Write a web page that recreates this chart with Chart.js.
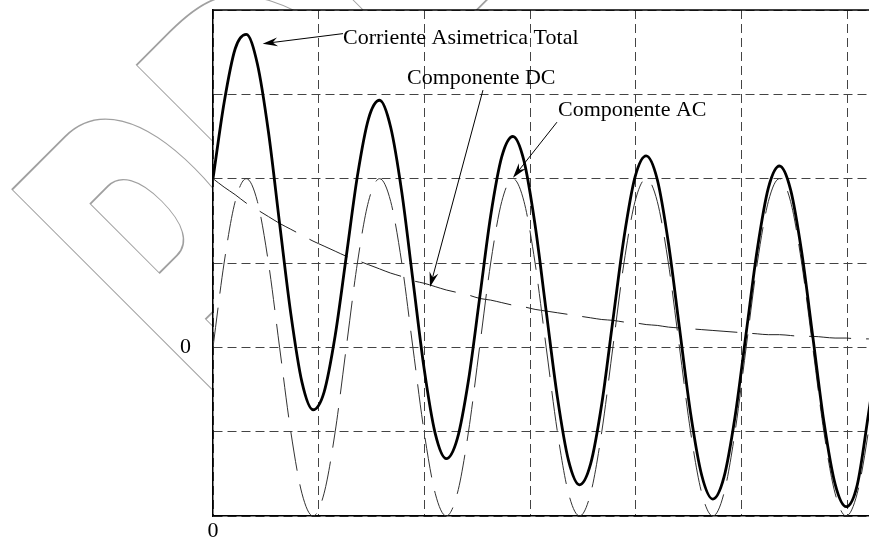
<!DOCTYPE html>
<html>
<head>
<meta charset="utf-8">
<script src="https://cdn.jsdelivr.net/npm/chart.js@4.4.1/dist/chart.umd.min.js"></script>
<style>
  html, body { margin: 0; padding: 0; background: #fff; }
  #wrap { width: 869px; height: 540px; }
</style>
</head>
<body>
<div id="wrap"><canvas id="chart"></canvas></div>
<script>
// Time axis in grid divisions (about 12 samples per cycle)
const tValues = [0, 0.105, 0.210, 0.315, 0.420, 0.525, 0.630, 0.736, 0.841, 0.946,
  1.051, 1.156, 1.261, 1.366, 1.471, 1.576, 1.681, 1.786, 1.891, 1.997,
  2.102, 2.207, 2.312, 2.417, 2.522, 2.627, 2.732, 2.837, 2.942, 3.047,
  3.152, 3.258, 3.363, 3.468, 3.573, 3.678, 3.783, 3.888, 3.993, 4.098,
  4.203, 4.308, 4.413, 4.518, 4.624, 4.729, 4.834, 4.939, 5.044, 5.149,
  5.254, 5.359, 5.464, 5.569, 5.674, 5.779, 5.885, 5.990, 6.095, 6.200, 6.305];

// Corriente asimetrica total (thick line)
const totalCurrent = [2.00, 2.90, 3.54, 3.71, 3.36, 2.55, 1.47, 0.40, -0.41, -0.74,
  -0.53, 0.14, 1.08, 2.03, 2.71, 2.93, 2.61, 1.84, 0.80, -0.25,
  -1.02, -1.32, -1.08, -0.39, 0.58, 1.56, 2.26, 2.50, 2.21, 1.45,
  0.43, -0.59, -1.34, -1.63, -1.38, -0.67, 0.32, 1.30, 2.02, 2.27,
  1.99, 1.24, 0.23, -0.78, -1.52, -1.80, -1.54, -0.82, 0.17, 1.16,
  1.89, 2.15, 1.87, 1.13, 0.13, -0.88, -1.62, -1.89, -1.63, -0.80, 0.09];

// Componente AC (thin dashed)
const acComponent = [0, 1.00, 1.73, 2.00, 1.73, 1.00, 0, -1.00, -1.73, -2.00,
  -1.73, -1.00, 0, 1.00, 1.73, 2.00, 1.73, 1.00, 0, -1.00,
  -1.73, -2.00, -1.73, -1.00, 0, 1.00, 1.73, 2.00, 1.73, 1.00,
  0, -1.00, -1.73, -2.00, -1.73, -1.00, 0, 1.00, 1.73, 2.00,
  1.73, 1.00, 0, -1.00, -1.73, -2.00, -1.73, -1.00, 0, 1.00,
  1.73, 2.00, 1.73, 1.00, 0, -1.00, -1.73, -2.00, -1.73, -1.00, 0];

// Componente DC (thin long dashes, decaying)
const dcComponent = [2.00, 1.90, 1.81, 1.71, 1.63, 1.55, 1.47, 1.40, 1.33, 1.26,
  1.20, 1.14, 1.08, 1.03, 0.98, 0.93, 0.88, 0.84, 0.79, 0.76,
  0.72, 0.68, 0.65, 0.62, 0.58, 0.56, 0.53, 0.50, 0.48, 0.45,
  0.43, 0.41, 0.39, 0.37, 0.35, 0.33, 0.32, 0.30, 0.29, 0.27,
  0.26, 0.24, 0.23, 0.22, 0.21, 0.20, 0.19, 0.18, 0.17, 0.16,
  0.15, 0.15, 0.14, 0.13, 0.13, 0.12, 0.11, 0.11, 0.10, 0.10, 0.09];

// Axis ranges (only the zero ticks carry a label)
const xRange = [0, 6.206];
const yRange = [-2, 4];

// Callouts, placed in data units
const callouts = [
  { text: 'Corriente Asimetrica Total', at: [1.23, 3.60], from: [1.23, 3.72], to: [0.47, 3.60] },
  { text: 'Componente DC', at: [1.835, 3.12], from: [2.554, 3.05], to: [2.053, 0.715] },
  { text: 'Componente AC', at: [3.264, 2.74], from: [3.254, 2.67], to: [2.838, 2.01] }
];

const SERIF = '"Liberation Serif", "Times New Roman", serif';

function toPoints(ys) {
  return tValues.map((t, i) => ({ x: t, y: ys[i] }));
}

function drawArrow(ctx, x1, y1, x2, y2) {
  const ang = Math.atan2(y2 - y1, x2 - x1);
  const len = 15, half = 4.5;
  ctx.beginPath();
  ctx.moveTo(x1, y1);
  ctx.lineTo(x2 - Math.cos(ang) * 8, y2 - Math.sin(ang) * 8);
  ctx.stroke();
  ctx.save();
  ctx.translate(x2, y2);
  ctx.rotate(ang);
  ctx.beginPath();
  ctx.moveTo(0, 0);
  ctx.lineTo(-len, -half);
  ctx.lineTo(-len + 5, 0);
  ctx.lineTo(-len, half);
  ctx.closePath();
  ctx.fill();
  ctx.restore();
}

const framePlugin = {
  id: 'frame',
  beforeDraw(chart) {
    const { ctx, chartArea: a } = chart;
    ctx.save();
    ctx.fillStyle = '#fff';
    ctx.fillRect(0, 0, chart.width, chart.height);

    // faint outlined watermark behind the plot
    ctx.translate(8, 190);
    ctx.rotate(-Math.PI / 4);
    ctx.scale(0.5, 1);
    ctx.font = 'bold 480px "DejaVu Sans"';
    const m = ctx.measureText('PDF');
    ctx.strokeStyle = '#a0a0a0';
    ctx.lineWidth = 1.8;
    ctx.strokeText('PDF', m.actualBoundingBoxLeft, m.actualBoundingBoxAscent);
    ctx.restore();

    ctx.save();
    ctx.fillStyle = '#fff';
    ctx.fillRect(a.left, a.top, a.right - a.left, a.bottom - a.top);
    ctx.restore();
  },
  afterDraw(chart) {
    const { ctx, chartArea: a, scales } = chart;
    ctx.save();
    ctx.strokeStyle = '#000';
    ctx.lineWidth = 1.5;
    ctx.beginPath();
    ctx.moveTo(a.left, a.top);
    ctx.lineTo(a.right, a.top);
    ctx.stroke();

    ctx.font = '22px ' + SERIF;
    ctx.fillStyle = '#000';
    ctx.textBaseline = 'alphabetic';
    ctx.lineWidth = 1;
    callouts.forEach(c => {
      const px = v => scales.x.getPixelForValue(v);
      const py = v => scales.y.getPixelForValue(v);
      ctx.fillText(c.text, px(c.at[0]), py(c.at[1]));
      drawArrow(ctx, px(c.from[0]), py(c.from[1]), px(c.to[0]), py(c.to[1]));
    });
    ctx.restore();
  }
};

const ctx = document.getElementById('chart').getContext('2d');
const chart = new Chart(ctx, {
  type: 'line',
  data: {
    datasets: [
      {
        label: 'Corriente Asimetrica Total',
        data: toPoints(totalCurrent),
        borderColor: '#000',
        borderWidth: 2.8,
        pointRadius: 0,
        cubicInterpolationMode: 'monotone',
        fill: false
      },
      {
        label: 'Componente AC',
        data: toPoints(acComponent),
        borderColor: '#333',
        borderWidth: 1,
        borderDash: [40, 14],
        pointRadius: 0,
        cubicInterpolationMode: 'monotone',
        fill: false
      },
      {
        label: 'Componente DC',
        data: toPoints(dcComponent),
        borderColor: '#222',
        borderWidth: 1,
        borderDash: [42, 15],
        pointRadius: 0,
        cubicInterpolationMode: 'monotone',
        fill: false
      }
    ]
  },
  options: {
    responsive: true,
    maintainAspectRatio: false,
    animation: false,
    layout: { padding: { top: 10, left: 0, right: 0, bottom: 0 } },
    plugins: {
      legend: { display: false },
      tooltip: { enabled: false }
    },
    scales: {
      x: {
        type: 'linear',
        min: xRange[0],
        max: xRange[1],
        afterFit: s => { s.height = 24; s.paddingLeft = 0; s.paddingRight = 0; },
        ticks: {
          stepSize: 1,
          includeBounds: false,
          autoSkip: false,
          maxRotation: 0,
          padding: 2,
          color: '#000',
          font: { family: SERIF, size: 22 },
          callback: v => (v === 0 ? '0' : '')
        },
        grid: { color: '#444', lineWidth: 1, drawTicks: false },
        border: { display: true, color: '#000', width: 1.5, dash: [9, 5] }
      },
      y: {
        type: 'linear',
        min: yRange[0],
        max: yRange[1],
        afterFit: s => { s.width = 213; s.paddingTop = 0; s.paddingBottom = 0; },
        ticks: {
          stepSize: 1,
          autoSkip: false,
          padding: 22,
          color: '#000',
          font: { family: SERIF, size: 22 },
          callback: v => (v === 0 ? '0' : '')
        },
        grid: { color: '#444', lineWidth: 1, drawTicks: false },
        border: { display: true, color: '#000', width: 1.5, dash: [9, 5] }
      }
    }
  },
  plugins: [framePlugin]
});
</script>
</body>
</html>
